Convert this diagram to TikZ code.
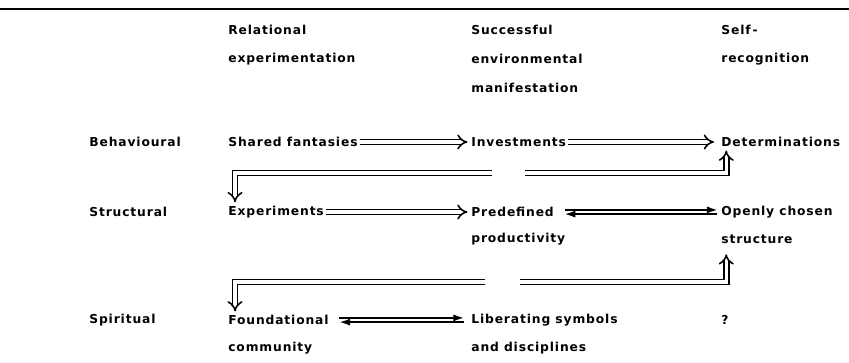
\documentclass[tikz,border=0pt]{standalone}
\usepackage{fontspec}
\setmainfont[LetterSpace=7]{DejaVu Sans}
\usetikzlibrary{arrows.meta}

\tikzset{
  lbl/.style={anchor=west, inner sep=0pt},
  dbl/.style={double, double distance=2pt, line width=0.9pt, -{Implies}, shorten >=2pt},
  harp/.style={line width=0.9pt, -{Latex[length=6pt,width=4pt]}}
}

\begin{document}
\begin{tikzpicture}[x=0.02cm, y=-0.02cm, font=\fontsize{7}{8}\selectfont\bfseries]
\useasboundingbox (0,0) rectangle (849,362);
\draw[line width=1.2pt] (0,9) -- (849,9);
\node[lbl] (h1) at (228,30) {Relational};
\node[lbl] (h1b) at (228,59) {experimentation};
\node[lbl] (h2) at (471,30) {Successful};
\node[lbl] (h2b) at (471,59) {environmental};
\node[lbl] (h2c) at (471,88) {manifestation};
\node[lbl] (h3) at (721,30) {Self\,-};
\node[lbl] (h3b) at (721,59) {recognition};
\node[lbl] (beh) at (89,142) {Behavioural};
\node[lbl] (sf) at (228,142) {Shared fantasies};
\node[lbl] (inv) at (471,142) {Investments};
\node[lbl] (det) at (721,142) {Determinations};
\node[lbl] (str) at (89,212) {Structural};
\node[lbl] (exp) at (228,212) {Experiments};
\node[lbl] (pre) at (471,212) {Predefined};
\node[lbl] (pre2) at (471,239) {productivity};
\node[lbl] (opn) at (721,212) {Openly chosen};
\node[lbl] (opn2) at (721,239) {structure};
\node[lbl] (spi) at (89,320) {Spiritual};
\node[lbl] (fnd) at (228,320) {Foundational};
\node[lbl] (fnd2) at (228,348) {community};
\node[lbl] (lib) at (471,320) {Liberating symbols};
\node[lbl] (lib2) at (471,348) {and disciplines};
\node[lbl] (qst) at (721,320) {?};
\draw[dbl] ([xshift=1pt]sf.east) -- (inv.west);
\draw[dbl] ([xshift=1pt]inv.east) -- ([xshift=-2pt]det.west);
\draw[dbl] ([xshift=1pt]exp.east) -- (pre.west);
\draw[harp] ([xshift=6pt,yshift=1.2pt]pre.east) -- ([xshift=-2pt,yshift=1.2pt]opn.west);
\draw[harp] ([xshift=-2pt,yshift=-1.2pt]opn.west) -- ([xshift=6pt,yshift=-1.2pt]pre.east);
\draw[harp] ([xshift=6pt,yshift=1.2pt]fnd.east) -- ([xshift=-4pt,yshift=1.2pt]lib.west);
\draw[harp] ([xshift=-4pt,yshift=-1.2pt]lib.west) -- ([xshift=6pt,yshift=-1.2pt]fnd.east);
\coordinate (g1l) at (492,173);
\coordinate (g1r) at (525,173);
\coordinate (g2l) at (485,282);
\coordinate (g2r) at (520,282);
\draw[dbl] (g1l) -| ([xshift=4pt]exp.north west);
\draw[dbl] (g1r) -| ([xshift=3pt]det.south west);
\draw[dbl] (g2l) -| ([xshift=4pt]fnd.north west);
\draw[dbl, shorten >=6pt] (g2r) -| ([xshift=3pt]opn2.south west);
\end{tikzpicture}
\end{document}
